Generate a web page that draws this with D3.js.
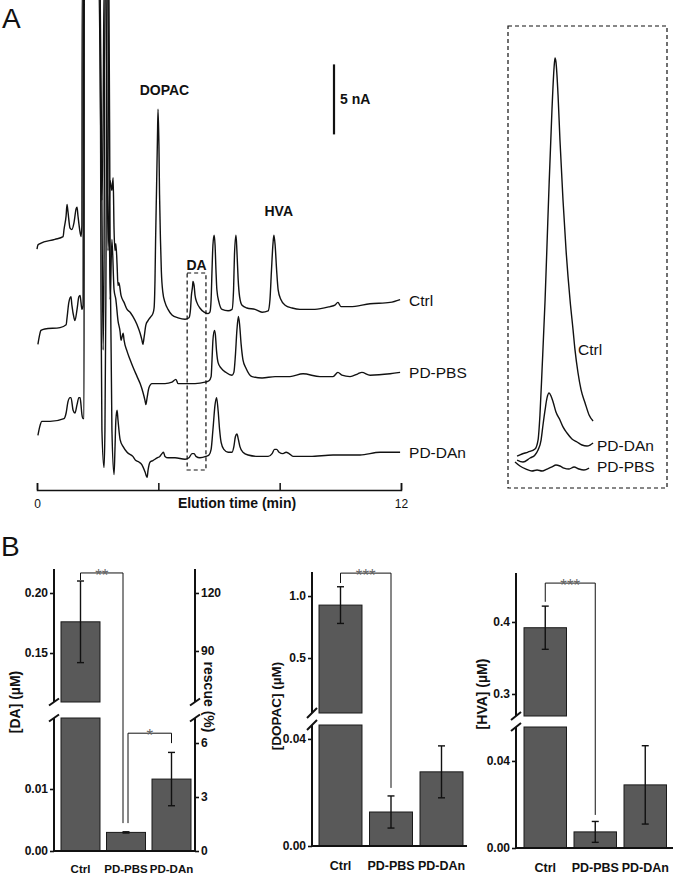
<!DOCTYPE html>
<html>
<head>
<meta charset="utf-8">
<script src="https://cdn.jsdelivr.net/npm/d3@7/dist/d3.min.js"></script>
<style>
  body { margin: 0; background: #fff; }
  text { font-family: "Liberation Sans", Arial, sans-serif; }
</style>
</head>
<body>
<svg id="fig" width="680" height="876"></svg>
<script>
// ---------- panel A : chromatograms, [time (min), current (nA)] ----------
var ctrlTrace = [[0.00,17.2],[0.03,17.5],[0.10,17.6],[0.59,17.9],[0.86,18.1],[0.89,18.6],[0.96,19.6],[0.99,20.4],[1.02,19.9],[1.09,18.7],[1.15,18.6],[1.22,19.1],[1.29,20.1],[1.32,20.2],[1.35,19.6],[1.42,18.4],[1.45,18.1],[1.48,18.9],[1.49,36],
  [2.04,36],[2.11,24.3],[2.14,20.7],[2.18,26.4],[2.21,36],[2.27,36],[2.31,26.4],[2.34,17.1],[2.41,22.1],[2.47,21.4],[2.51,22.3],[2.54,18.6],[2.57,17.1],[2.60,17.6],[2.64,16.1],[2.67,14.6],[2.70,14.8],[2.77,13.9],[2.87,13.4],[2.97,12.9],[3.07,12.7],[3.16,12.4],[3.30,11.8],[3.40,11.2],[3.46,10.7],[3.49,10.4],[3.53,10.9],[3.59,11.8],[3.66,12.1],[3.76,12.4],[3.82,12.6],[3.86,13.0],[3.89,15.0],[3.91,17.9],[3.94,21.4],[3.97,25.0],[3.99,27.2],[4.02,24.6],[4.04,21.1],[4.07,17.9],[4.10,15.6],[4.15,14.1],[4.22,13.4],[4.32,12.9],[4.45,12.5],[4.65,12.3],[4.88,12.2],[5.01,12.3],[5.06,12.9],[5.09,13.9],[5.13,14.6],[5.14,14.9],[5.18,14.6],[5.21,13.9],[5.27,13.4],[5.37,13.0],[5.51,12.7],[5.64,12.6],[5.70,12.7],[5.74,13.6],[5.77,15.7],[5.80,17.5],[5.84,18.2],[5.87,17.5],[5.90,15.7],[5.93,14.3],[6.00,13.4],[6.10,12.9],[6.30,12.8],[6.43,12.9],[6.48,14.3],[6.51,16.8],[6.56,18.2],[6.59,17.1],[6.63,15.1],[6.68,13.8],[6.76,13.2],[6.92,13.0],[7.19,12.9],[7.42,12.7],[7.62,12.8],[7.68,13.6],[7.73,15.7],[7.78,17.6],[7.81,18.2],[7.85,17.5],[7.90,15.7],[7.95,14.3],[8.04,13.6],[8.18,13.2],[8.41,13.0],[8.67,12.9],[9.16,12.9],[9.66,13.1],[9.82,13.2],[9.92,13.4],[10.02,13.1],[10.32,13.1],[10.98,13.3],[11.64,13.4],[11.97,13.6]];

var pbsTrace = [[0.03,10.4],[0.07,10.9],[0.13,11.4],[0.26,11.5],[0.76,11.6],[0.96,11.8],[0.99,12.3],[1.05,13.4],[1.12,13.8],[1.15,13.2],[1.22,12.3],[1.25,12.1],[1.32,12.9],[1.38,13.8],[1.42,13.9],[1.45,13.4],[1.48,12.9],[1.52,13.2],[1.53,36],
  [2.08,36],[2.14,20.7],[2.18,10.0],[2.21,16.4],[2.24,36],[2.34,36],[2.37,24.3],[2.41,13.6],[2.47,17.9],[2.54,14.3],[2.60,13.6],[2.67,12.1],[2.74,11.3],[2.77,10.7],[2.80,10.9],[2.84,11.2],[2.87,10.7],[2.97,9.9],[3.07,9.3],[3.16,8.8],[3.30,8.1],[3.40,7.6],[3.49,7.0],[3.56,6.4],[3.59,6.1],[3.63,6.6],[3.69,7.3],[3.79,7.6],[3.96,7.6],[4.22,7.6],[4.45,7.7],[4.58,7.9],[4.65,7.6],[4.88,7.6],[5.21,7.6],[5.54,7.7],[5.67,7.8],[5.74,8.1],[5.77,9.3],[5.80,10.7],[5.85,11.4],[5.88,11.1],[5.92,9.9],[5.97,9.1],[6.07,8.7],[6.23,8.4],[6.43,8.2],[6.49,8.4],[6.54,9.6],[6.59,11.4],[6.64,12.4],[6.68,11.8],[6.73,10.4],[6.79,9.3],[6.89,8.7],[7.09,8.1],[7.42,8.0],[7.85,8.1],[8.34,8.1],[8.77,8.3],[9.33,8.1],[9.76,8.1],[9.92,8.4],[10.05,8.2],[10.32,8.1],[10.58,8.3],[10.71,8.4],[10.98,8.2],[11.64,8.3],[11.97,8.4]];

var danTrace = [[0.03,3.9],[0.10,4.6],[0.16,4.9],[0.43,4.9],[0.89,5.1],[0.96,5.5],[1.02,6.3],[1.09,6.6],[1.12,6.6],[1.19,5.7],[1.25,5.5],[1.32,6.1],[1.38,6.6],[1.42,6.6],[1.45,6.1],[1.48,5.4],[1.52,5.1],[1.55,5.1],[1.56,36],
  [2.08,36],[2.11,13.6],[2.14,4.3],[2.21,1.6],[2.24,4.3],[2.27,13.6],[2.31,36],[2.37,36],[2.41,17.1],[2.47,4.3],[2.54,1.1],[2.57,2.9],[2.60,5.0],[2.64,5.7],[2.67,5.0],[2.74,3.6],[2.84,3.1],[2.97,2.7],[3.16,2.4],[3.26,2.1],[3.36,2.0],[3.46,1.8],[3.56,1.3],[3.63,0.9],[3.66,1.4],[3.73,2.0],[3.82,2.1],[3.96,2.3],[4.05,2.4],[4.12,2.6],[4.17,2.7],[4.22,2.4],[4.32,2.3],[4.55,2.3],[4.88,2.2],[5.01,2.3],[5.11,2.6],[5.18,2.6],[5.24,2.4],[5.37,2.3],[5.57,2.4],[5.67,2.5],[5.74,2.9],[5.80,4.3],[5.87,6.1],[5.92,6.6],[5.97,5.7],[6.02,4.3],[6.07,3.4],[6.16,2.9],[6.30,2.7],[6.43,2.7],[6.49,3.1],[6.54,3.8],[6.59,4.0],[6.64,3.6],[6.69,3.1],[6.79,2.7],[6.96,2.5],[7.29,2.4],[7.62,2.4],[7.75,2.6],[7.83,2.9],[7.90,2.9],[7.98,2.7],[8.11,2.6],[8.21,2.7],[8.31,2.6],[8.44,2.4],[9.00,2.4],[9.76,2.5],[10.65,2.5],[11.31,2.7],[11.97,2.7]];

var traceNames = ["Ctrl", "PD-PBS", "PD-DAn"];
var peakLabels = [["DOPAC", 4.2, 28.2], ["DA", 5.26, 15.7], ["HVA", 7.97, 19.6]];
var daWindow = [4.95, 5.57, 1.43, 15.5];     // t0, t1, nA low, nA high
var timeTicks = [0, 4, 8, 12];
var timeLabels = [0, 12];
var scaleBar = [25.4, 5];                       // base (nA), length (nA)

// inset: DA peak enlarged, [time (min), current above baseline (nA)]
var insetCtrl = [[5.013,0.10],[5.044,0.116],[5.081,0.13],[5.125,0.152],[5.144,0.217],[5.156,0.399],[5.169,0.725],[5.188,1.232],[5.2,1.63],[5.213,2.065],[5.231,2.609],[5.244,2.913],[5.25,2.986],[5.256,2.957],[5.269,2.717],[5.281,2.391],[5.3,1.957],[5.319,1.594],[5.344,1.232],[5.363,1.014],[5.375,0.87],[5.394,0.703],[5.413,0.58],[5.438,0.486],[5.463,0.399],[5.488,0.355]];
var insetDan = [[5.013,0.072],[5.05,0.058],[5.094,0.087],[5.125,0.109],[5.144,0.145],[5.163,0.217],[5.175,0.326],[5.188,0.435],[5.2,0.522],[5.213,0.558],[5.225,0.536],[5.238,0.493],[5.256,0.420],[5.281,0.362],[5.3,0.312],[5.325,0.268],[5.356,0.225],[5.388,0.203],[5.419,0.181],[5.45,0.174],[5.469,0.181],[5.488,0.196]];
var insetPbs = [[5.0,0.058],[5.031,0.029],[5.069,0.007],[5.106,-0.007],[5.138,0],[5.169,-0.007],[5.2,0.007],[5.231,0.022],[5.256,0.036],[5.281,0.029],[5.306,0.014],[5.338,0.007],[5.369,0.022],[5.4,0.007],[5.431,0],[5.463,0.014]];

// ---------- panel B : bar charts ----------
var groups = ["Ctrl", "PD-PBS", "PD-DAn"];
var daMeans = [0.176, 0.003, 0.0116];
var daErrs = [0.034, 0.0001, 0.0043];
var dopacMeans = [0.927, 0.0127, 0.0277];
var dopacErrs = [0.148, 0.006, 0.0097];
var hvaMeans = [0.392, 0.0074, 0.029];
var hvaErrs = [0.03, 0.0048, 0.018];

var daTicksLow = [0, 0.01], daTicksHigh = [0.15, 0.20];
var rescueTicksLow = [0, 3, 6], rescueTicksHigh = [90, 120];
var dopacTicksLow = [0, 0.04], dopacTicksHigh = [0.5, 1.0];
var hvaTicksLow = [0, 0.04], hvaTicksHigh = [0.3, 0.4];

// significance brackets: groups a-b, top level, leg ends, label
var daSig = [{a:0, b:1, top:0.2167, endA:0.2108, endB:0.0045, offA:0, offB:-3, label:"**"},
             {a:1, b:2, top:0.019, endA:0.0045, endB:0.0174, offA:2, offB:0, label:"*"}];
var dopacSig = [{a:0, b:1, top:1.185, endA:1.105, endB:0.0217, offA:0, offB:0, label:"***"}];
var hvaSig = [{a:0, b:1, top:0.454, endA:0.428, endB:0.0152, offA:0, offB:0, label:"***"}];

var svg = d3.select("#fig");
var ink = "#111";
var FONT = "'Liberation Sans', Arial, sans-serif";

// ================= panel A =================
var x = d3.scaleLinear().domain([0, 12]).range([37, 401]);
var y = d3.scaleLinear().domain([0, 35]).range([490, 0]);
var line = d3.line()
    .x(function(d) { return x(d[0]); })
    .y(function(d) { return y(d[1]); })
    .curve(d3.curveMonotoneX);

svg.append("text").attr("x", 2).attr("y", 28)
    .style("font-size", "28px").attr("fill", ink).text("A");

var traces = [ctrlTrace, pbsTrace, danTrace];
svg.append("g").selectAll("path")
    .data(traces)
    .enter().append("path")
    .attr("d", line)
    .attr("fill", "none")
    .attr("stroke", ink)
    .attr("stroke-width", 1.4)
    .attr("stroke-linejoin", "round");

// trace names at the right end
svg.append("g").selectAll("text")
    .data(traces)
    .enter().append("text")
    .attr("x", function(d) { return x(d[d.length - 1][0]) + 9; })
    .attr("y", function(d) { return y(d[d.length - 1][1]) + 6; })
    .style("font-size", "15.5px")
    .attr("fill", ink)
    .text(function(d, i) { return traceNames[i]; });

// peak names
svg.append("g").selectAll("text")
    .data(peakLabels)
    .enter().append("text")
    .attr("x", function(d) { return x(d[1]); })
    .attr("y", function(d) { return y(d[2]); })
    .attr("text-anchor", "middle")
    .style("font-size", "14px")
    .style("font-weight", "bold")
    .attr("fill", ink)
    .text(function(d) { return d[0]; });

// dashed window round the DA peak
svg.append("rect")
    .attr("x", x(daWindow[0]))
    .attr("y", y(daWindow[3]))
    .attr("width", x(daWindow[1]) - x(daWindow[0]))
    .attr("height", y(daWindow[2]) - y(daWindow[3]))
    .attr("fill", "none")
    .attr("stroke", ink)
    .attr("stroke-width", 1.2)
    .attr("stroke-dasharray", "4,3");

// 5 nA scale bar
svg.append("line")
    .attr("x1", 334).attr("x2", 334)
    .attr("y1", y(scaleBar[0])).attr("y2", y(scaleBar[0] + scaleBar[1]))
    .attr("stroke", ink).attr("stroke-width", 2.2);
svg.append("text")
    .attr("x", 340).attr("y", y(scaleBar[0] + scaleBar[1] / 2) + 5)
    .style("font-size", "14px").style("font-weight", "bold").attr("fill", ink)
    .text(scaleBar[1] + " nA");

// time axis, ticks pointing up
var xAxis = svg.append("g")
    .attr("transform", "translate(0,490)")
    .call(d3.axisTop(x).tickValues(timeTicks).tickFormat("").tickSize(7).tickSizeOuter(7));
xAxis.selectAll("path, line").attr("stroke", ink).attr("stroke-width", 1.5);

var xLab = svg.append("g")
    .attr("transform", "translate(0,490)")
    .call(d3.axisBottom(x).tickValues(timeLabels).tickSize(0).tickPadding(9));
xLab.select(".domain").remove();
xLab.selectAll("text").style("font-size", "12px").style("font-family", FONT).attr("fill", ink);

svg.append("text")
    .attr("x", 237).attr("y", 508)
    .attr("text-anchor", "middle")
    .style("font-size", "14px").style("font-weight", "bold").attr("fill", ink)
    .text("Elution time (min)");

// ---------- inset ----------
svg.append("rect")
    .attr("x", 508).attr("y", 26)
    .attr("width", 159).attr("height", 462)
    .attr("fill", "none")
    .attr("stroke", ink)
    .attr("stroke-width", 1.2)
    .attr("stroke-dasharray", "4,3");

var xi = d3.scaleLinear().domain([5.0, 5.5]).range([515, 595]);
var yi = d3.scaleLinear().domain([0, 3]).range([470, 56]);
var lineI = d3.line()
    .x(function(d) { return xi(d[0]); })
    .y(function(d) { return yi(d[1]); })
    .curve(d3.curveMonotoneX);

var insetTraces = [insetCtrl, insetPbs, insetDan];
svg.append("g").selectAll("path")
    .data(insetTraces)
    .enter().append("path")
    .attr("d", lineI)
    .attr("fill", "none")
    .attr("stroke", ink)
    .attr("stroke-width", 1.4);

var insetLab = [["Ctrl", 578, 355], ["PD-PBS", 597, 472], ["PD-DAn", 597, 451]];
svg.append("g").selectAll("text")
    .data(insetLab)
    .enter().append("text")
    .attr("x", function(d) { return d[1]; })
    .attr("y", function(d) { return d[2]; })
    .style("font-size", "15.5px").attr("fill", ink)
    .text(function(d) { return d[0]; });

// ================= panel B =================
svg.append("text").attr("x", 1).attr("y", 556)
    .style("font-size", "28px").attr("fill", ink).text("B");

function styleAxis(g) {
    g.select(".domain").remove();
    g.selectAll("line").attr("stroke", ink).attr("stroke-width", 1.6);
    g.selectAll("text")
        .style("font-size", "12px").style("font-weight", "bold").style("font-family", FONT)
        .attr("fill", ink);
}

/*
 * draws one bar chart with a broken value axis
 */
function drawBarChart(o) {
    var g = svg.append("g");
    var xb = d3.scaleBand().domain(groups)
        .range([o.x0, o.x1]).paddingInner(o.pad).paddingOuter(o.pad / 2);
    var lo = d3.scaleLinear().domain([0, o.lowMax]).range([o.bottom, o.lowTop]);
    var hi = d3.scaleLinear().domain([o.upMin, o.upMax]).range([o.upBottom, o.top]);
    var yv = function(v) { return v <= o.lowMax ? lo(v) : hi(v); };
    var cx = function(i) { return xb(groups[i]) + xb.bandwidth() / 2; };

    // bar pieces (two pieces for bars crossing the break)
    var pieces = [];
    o.means.forEach(function(v, i) {
        if (v <= o.lowMax) {
            pieces.push({i: i, y0: lo(v), y1: lo(0)});
        } else {
            pieces.push({i: i, y0: lo(o.lowMax), y1: lo(0)});
            pieces.push({i: i, y0: hi(v), y1: hi(o.upMin)});
        }
    });
    g.selectAll("rect.bar")
        .data(pieces)
        .enter().append("rect")
        .attr("class", "bar")
        .attr("x", function(d) { return xb(groups[d.i]); })
        .attr("y", function(d) { return d.y0; })
        .attr("width", xb.bandwidth())
        .attr("height", function(d) { return d.y1 - d.y0; })
        .attr("fill", "#595959")
        .attr("stroke", "#1a1a1a")
        .attr("stroke-width", 1);

    // error bars
    var eb = g.selectAll("g.err")
        .data(o.means)
        .enter().append("g").attr("class", "err");
    eb.append("line")
        .attr("x1", function(d, i) { return cx(i); })
        .attr("x2", function(d, i) { return cx(i); })
        .attr("y1", function(d, i) { return yv(d - o.errs[i]); })
        .attr("y2", function(d, i) { return yv(d + o.errs[i]); });
    [-1, 1].forEach(function(s) {
        eb.append("line")
            .attr("x1", function(d, i) { return cx(i) - 3.5; })
            .attr("x2", function(d, i) { return cx(i) + 3.5; })
            .attr("y1", function(d, i) { return yv(d + s * o.errs[i]); })
            .attr("y2", function(d, i) { return yv(d + s * o.errs[i]); });
    });
    eb.selectAll("line").attr("stroke", ink).attr("stroke-width", 1.4);

    // value axis, broken
    var axes = [[lo, o.ticksLow, o.lowMax, 0, o.fmtLow], [hi, o.ticksHigh, o.upMax, o.upMin, o.fmtHigh]];
    axes.forEach(function(a) {
        var ag = g.append("g").attr("transform", "translate(" + o.axisX + ",0)")
            .call(d3.axisLeft(a[0]).tickValues(a[1]).tickFormat(d3.format(a[4])).tickSize(4).tickPadding(2));
        styleAxis(ag);
        g.append("line").attr("x1", o.axisX).attr("x2", o.axisX)
            .attr("y1", a[0](a[3])).attr("y2", a[0](a[2]))
            .attr("stroke", ink).attr("stroke-width", 2);
    });
    // break marks
    [lo(o.lowMax), hi(o.upMin)].forEach(function(yy) {
        g.append("line")
            .attr("x1", o.axisX - 5).attr("x2", o.axisX + 5)
            .attr("y1", yy + o.slant).attr("y2", yy - o.slant)
            .attr("stroke", ink).attr("stroke-width", 2);
    });

    // right axis (only for the DA chart)
    if (o.right) {
        var r = o.right;
        var rlo = d3.scaleLinear().domain([0, r.lowMax]).range([o.bottom, o.lowTop]);
        var rhi = d3.scaleLinear().domain([r.upMin, r.upMax]).range([o.upBottom, o.top]);
        [[rlo, r.ticksLow, r.lowMax, 0], [rhi, r.ticksHigh, r.upMax, r.upMin]].forEach(function(a) {
            var ag = g.append("g").attr("transform", "translate(" + r.axisX + ",0)")
                .call(d3.axisRight(a[0]).tickValues(a[1]).tickFormat(d3.format("d")).tickSize(4).tickPadding(2));
            styleAxis(ag);
            g.append("line").attr("x1", r.axisX).attr("x2", r.axisX)
                .attr("y1", a[0](a[3])).attr("y2", a[0](a[2]))
                .attr("stroke", ink).attr("stroke-width", 2);
        });
        [rlo(r.lowMax), rhi(r.upMin)].forEach(function(yy) {
            g.append("line")
                .attr("x1", r.axisX - 5).attr("x2", r.axisX + 5)
                .attr("y1", yy + o.slant).attr("y2", yy - o.slant)
                .attr("stroke", ink).attr("stroke-width", 2);
        });
        g.append("text")
            .attr("transform", "translate(" + r.titleX + "," + r.titleY + ") rotate(90)")
            .attr("text-anchor", "middle").attr("dy", "0.35em")
            .style("font-size", "14px").style("font-weight", "bold").attr("fill", ink)
            .text(r.title);
    }

    // baseline
    g.append("line")
        .attr("x1", o.axisX - 1).attr("x2", o.xEnd)
        .attr("y1", o.bottom).attr("y2", o.bottom)
        .attr("stroke", ink).attr("stroke-width", 2);

    // group names
    var cg = g.append("g").attr("transform", "translate(0," + o.bottom + ")")
        .call(d3.axisBottom(xb).tickSize(0).tickPadding(o.labelPad));
    cg.select(".domain").remove();
    cg.selectAll("text")
        .style("font-size", o.labelSize + "px").style("font-weight", "bold").style("font-family", FONT)
        .attr("fill", ink);

    // y title
    g.append("text")
        .attr("transform", "translate(" + o.titleX + "," + o.titleY + ") rotate(-90)")
        .attr("text-anchor", "middle").attr("dy", "0.35em")
        .style("font-size", o.titleSize + "px").style("font-weight", "bold").attr("fill", ink)
        .text(o.title);

    // significance brackets
    var sg = g.selectAll("g.sig").data(o.sig).enter().append("g").attr("class", "sig");
    sg.append("path")
        .attr("d", function(d) {
            var xa = cx(d.a) + d.offA, xb2 = cx(d.b) + d.offB;
            return "M" + xa + "," + yv(d.endA) + "V" + yv(d.top) + "H" + xb2 + "V" + yv(d.endB);
        })
        .attr("fill", "none").attr("stroke", ink).attr("stroke-width", 1);
    sg.append("text")
        .attr("x", function(d) { return (cx(d.a) + d.offA + cx(d.b) + d.offB) / 2; })
        .attr("y", function(d) { return yv(d.top) + 8; })
        .attr("text-anchor", "middle")
        .style("font-size", "17px").attr("fill", "#666")
        .text(function(d) { return d.label; });
}

drawBarChart({
    means: daMeans, errs: daErrs, sig: daSig,
    ticksLow: daTicksLow, ticksHigh: daTicksHigh, fmtLow: ".2f", fmtHigh: ".2f",
    axisX: 54, x0: 57.75, x1: 194.25, pad: 0.143, xEnd: 195,
    bottom: 851, lowMax: 0.02145, lowTop: 718,
    upMin: 0.1092, upMax: 0.22, upBottom: 702, top: 569,
    slant: 3.5, labelPad: 14, labelSize: 11.5,
    title: "[DA] (\u00b5M)", titleX: 15, titleY: 702, titleSize: 14,
    right: {axisX: 195, lowMax: 7.39, upMin: 63.6, upMax: 132.4,
            ticksLow: rescueTicksLow, ticksHigh: rescueTicksHigh,
            title: "rescue (%)", titleX: 209, titleY: 697}
});

drawBarChart({
    means: dopacMeans, errs: dopacErrs, sig: dopacSig,
    ticksLow: dopacTicksLow, ticksHigh: dopacTicksHigh, fmtLow: ".2f", fmtHigh: ".1f",
    axisX: 312, x0: 315.25, x1: 466.75, pad: 0.149, xEnd: 467,
    bottom: 846, lowMax: 0.0452, lowTop: 725,
    upMin: 0.0565, upMax: 1.194, upBottom: 713, top: 572,
    slant: 5, labelPad: 15, labelSize: 12.5,
    title: "[DOPAC] (\u00b5M)", titleX: 276, titleY: 706, titleSize: 13.5
});

drawBarChart({
    means: hvaMeans, errs: hvaErrs, sig: hvaSig,
    ticksLow: hvaTicksLow, ticksHigh: hvaTicksHigh, fmtLow: ".2f", fmtHigh: ".1f",
    axisX: 516, x0: 520.25, x1: 670.25, pad: 0.15, xEnd: 673,
    bottom: 848, lowMax: 0.0556, lowTop: 727,
    upMin: 0.2694, upMax: 0.468, upBottom: 716, top: 573,
    slant: 4, labelPad: 15, labelSize: 12.5,
    title: "[HVA] (\u00b5M)", titleX: 482, titleY: 694, titleSize: 14
});
</script>
</body>
</html>
